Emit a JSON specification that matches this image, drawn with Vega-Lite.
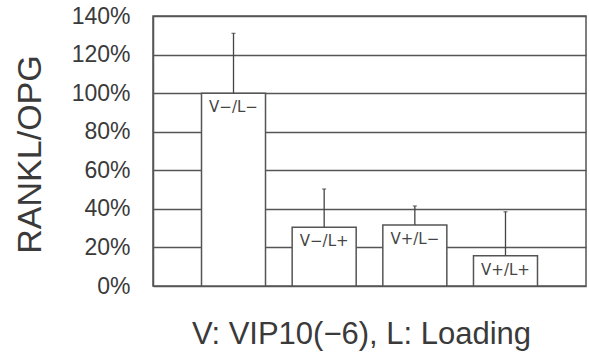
{
  "$schema": "https://vega.github.io/schema/vega-lite/v6.json",
  "width": 433,
  "height": 270,
  "autosize": {"type": "none"},
  "padding": {"left": 153, "top": 16, "right": 3, "bottom": 66},
  "background": "white",
  "config": {
    "view": {"stroke": "#555555", "strokeWidth": 1.5},
    "font": "Liberation Sans"
  },
  "data": {
    "values": [
      {"group": "V−/L−", "value": 1.0, "upper": 1.31},
      {"group": "V−/L+", "value": 0.305, "upper": 0.503},
      {"group": "V+/L−", "value": 0.316, "upper": 0.415},
      {"group": "V+/L+", "value": 0.157, "upper": 0.385}
    ]
  },
  "encoding": {
    "x": {
      "field": "group",
      "type": "nominal",
      "sort": null,
      "scale": {"paddingInner": 0.294, "paddingOuter": 0.535},
      "axis": {
        "title": "V: VIP10(−6), L: Loading",
        "labels": false,
        "ticks": false,
        "domain": false,
        "titleFont": "Liberation Sans",
        "titleFontSize": 31,
        "titleFontWeight": "normal",
        "titleColor": "#3a3a3a",
        "titleX": 208,
        "titleY": 57,
        "titleAlign": "center",
        "titleBaseline": "alphabetic"
      }
    },
    "y": {
      "field": "value",
      "type": "quantitative",
      "scale": {"domain": [0, 1.4], "nice": false},
      "axis": {
        "title": "RANKL/OPG",
        "values": [0, 0.2, 0.4, 0.6, 0.8, 1.0, 1.2, 1.4],
        "format": ".0%",
        "labelOverlap": false,
        "labelBound": false,
        "labelFlush": false,
        "grid": true,
        "gridColor": "#555555",
        "gridWidth": 1.5,
        "gridOpacity": 1,
        "ticks": false,
        "domain": true,
        "domainColor": "#555555",
        "domainWidth": 1.5,
        "labelFont": "Liberation Sans",
        "labelFontSize": 23,
        "labelColor": "#3a3a3a",
        "labelPadding": 23,
        "titleFont": "Liberation Sans",
        "titleFontSize": 34,
        "titleFontWeight": "normal",
        "titleColor": "#3a3a3a",
        "titleX": -113,
        "titleY": 138,
        "titleAlign": "center",
        "titleBaseline": "alphabetic",
        "titleAngle": -90
      }
    }
  },
  "layer": [
    {
      "mark": {"type": "bar", "fill": "white", "stroke": "#555555", "strokeWidth": 1.5}
    },
    {
      "mark": {"type": "rule", "stroke": "#444444", "strokeWidth": 1.3},
      "encoding": {
        "y2": {"field": "upper"}
      }
    },
    {
      "mark": {"type": "tick", "color": "#444444", "size": 4, "thickness": 1.3, "orient": "horizontal"},
      "encoding": {
        "y": {"field": "upper", "type": "quantitative"}
      }
    },
    {
      "mark": {"type": "text", "font": "DejaVu Sans", "fontSize": 15, "color": "#444444", "baseline": "alphabetic", "align": "center", "dy": 19},
      "encoding": {
        "text": {"field": "group"}
      }
    }
  ]
}
